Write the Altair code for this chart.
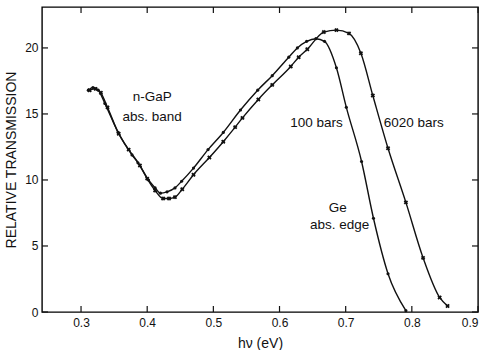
import altair as alt
import pandas as pd

# 100 bars curve (dots)
x_100 = [0.311, 0.318, 0.326, 0.336, 0.356, 0.377, 0.386, 0.402, 0.412, 0.420,
         0.430, 0.442, 0.452, 0.470, 0.492, 0.515, 0.541, 0.567, 0.589, 0.614,
         0.627, 0.641, 0.655, 0.668, 0.686, 0.701, 0.724, 0.742, 0.764, 0.791]
y_100 = [16.8, 17.0, 16.8, 15.8, 13.6, 11.9, 11.3, 10.0, 9.4, 9.0,
         9.1, 9.4, 9.9, 10.9, 12.3, 13.6, 15.3, 16.8, 17.9, 19.3,
         20.0, 20.5, 20.7, 20.5, 18.5, 15.5, 11.4, 7.1, 2.9, 0.1]

# 6020 bars curve (crosses)
x_6020 = [0.313, 0.322, 0.330, 0.340, 0.357, 0.372, 0.389, 0.400, 0.412, 0.424,
          0.433, 0.442, 0.453, 0.470, 0.494, 0.515, 0.533, 0.544, 0.568, 0.589,
          0.617, 0.629, 0.642, 0.667, 0.686, 0.705, 0.723, 0.741, 0.764, 0.791,
          0.817, 0.842, 0.854]
y_6020 = [16.8, 16.9, 16.6, 15.5, 13.5, 12.3, 11.1, 10.1, 9.2, 8.6,
          8.6, 8.7, 9.3, 10.4, 11.7, 12.9, 14.0, 14.7, 16.1, 17.2,
          18.6, 19.3, 19.9, 21.2, 21.35, 21.1, 19.6, 16.4, 12.4, 8.3,
          4.1, 1.1, 0.45]

x_ticks = [0.3, 0.4, 0.5, 0.6, 0.7, 0.8, 0.9]
y_ticks = [0, 5, 10, 15, 20]

ann_text = ["n-GaP", "abs. band", "100 bars", "6020 bars", "Ge", "abs. edge"]
ann_x = [0.4076, 0.4076, 0.656, 0.803, 0.688, 0.691]
ann_y = [16.3, 14.8, 14.3, 14.3, 7.9, 6.6]

X_DOMAIN = [0.241, 0.9]
Y_DOMAIN = [0, 23.1]

W, H = 436, 305
TICK_PX = 6
INK = "#111111"
FONT = "Liberation Sans"

xs = alt.Scale(domain=X_DOMAIN, nice=False, zero=False)
ys = alt.Scale(domain=Y_DOMAIN, nice=False, zero=False)

df100 = pd.DataFrame({"x": x_100, "y": y_100, "series": "100 bars"})
df6020 = pd.DataFrame({"x": x_6020, "y": y_6020, "series": "6020 bars"})
df = pd.concat([df100, df6020], ignore_index=True)

common = dict(grid=False, titleFontWeight="normal", titleFontSize=14,
              titleFont=FONT, titleColor=INK, labelFont=FONT, labelFontSize=12,
              labelColor=INK, domain=False, ticks=False)

x_axis = alt.Axis(values=x_ticks, format=".1f", title="hν   (eV)",
                  labelPadding=5, titlePadding=8, **common)
y_axis = alt.Axis(values=y_ticks, format="d", title="RELATIVE  TRANSMISSION",
                  labelPadding=4, titlePadding=6, **common)

lines = alt.Chart(df).mark_line(interpolate="monotone", color=INK,
                                strokeWidth=1.4).encode(
    x=alt.X("x:Q", scale=xs, axis=x_axis),
    y=alt.Y("y:Q", scale=ys, axis=y_axis),
    detail="series:N",
)

dots = alt.Chart(df100).mark_point(shape="circle", filled=True, size=10,
                                   color=INK, opacity=1).encode(
    x=alt.X("x:Q", scale=xs), y=alt.Y("y:Q", scale=ys))

crosses = alt.Chart(df6020).mark_point(shape="cross", angle=45, filled=True,
                                       size=20, color=INK, opacity=1).encode(
    x=alt.X("x:Q", scale=xs), y=alt.Y("y:Q", scale=ys))

# inward tick marks on all four sides (length converted from pixels to data units)
dy = TICK_PX / H * (Y_DOMAIN[1] - Y_DOMAIN[0])
dx = TICK_PX / W * (X_DOMAIN[1] - X_DOMAIN[0])
xt_bottom = pd.DataFrame({"x": x_ticks, "y": Y_DOMAIN[0], "y2": Y_DOMAIN[0] + dy})
xt_top = pd.DataFrame({"x": x_ticks, "y": Y_DOMAIN[1] - dy, "y2": Y_DOMAIN[1]})
yt_left = pd.DataFrame({"y": y_ticks, "x": X_DOMAIN[0], "x2": X_DOMAIN[0] + dx})
yt_right = pd.DataFrame({"y": y_ticks, "x": X_DOMAIN[1] - dx, "x2": X_DOMAIN[1]})

tick_style = dict(color=INK, strokeWidth=1.2)
t_bottom = alt.Chart(xt_bottom).mark_rule(**tick_style).encode(
    x=alt.X("x:Q", scale=xs), y=alt.Y("y:Q", scale=ys), y2="y2:Q")
t_top = alt.Chart(xt_top).mark_rule(**tick_style).encode(
    x=alt.X("x:Q", scale=xs), y=alt.Y("y:Q", scale=ys), y2="y2:Q")
t_left = alt.Chart(yt_left).mark_rule(**tick_style).encode(
    y=alt.Y("y:Q", scale=ys), x=alt.X("x:Q", scale=xs), x2="x2:Q")
t_right = alt.Chart(yt_right).mark_rule(**tick_style).encode(
    y=alt.Y("y:Q", scale=ys), x=alt.X("x:Q", scale=xs), x2="x2:Q")

ann = pd.DataFrame({"label": ann_text, "x": ann_x, "y": ann_y})
texts = alt.Chart(ann).mark_text(font=FONT, fontSize=13.5, color=INK,
                                 align="center", baseline="middle").encode(
    x=alt.X("x:Q", scale=xs), y=alt.Y("y:Q", scale=ys), text="label:N")

chart = alt.layer(lines, dots, crosses,
                  t_bottom, t_top, t_left, t_right, texts).properties(
    width=W, height=H,
    background="white",
    autosize=alt.AutoSizeParams(type="none"),
    padding={"left": 42, "top": 7, "right": 7, "bottom": 38},
).configure_view(stroke="#000000", strokeWidth=1.4)

chart.save("out.html", embed_options={"renderer": "svg", "actions": False})
